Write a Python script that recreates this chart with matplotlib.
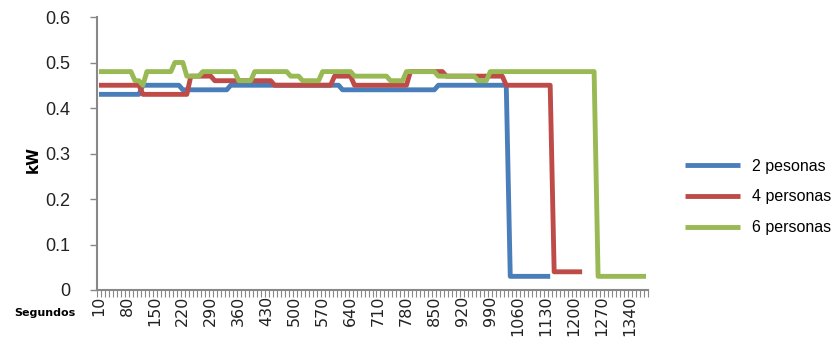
import matplotlib
matplotlib.use("Agg")
import matplotlib.pyplot as plt
import numpy as np

# seconds, one category every 10 s
segundos = list(range(10, 1390, 10))

# kW readings per category
p2 = [0.43, 0.43, 0.43, 0.43, 0.43, 0.43, 0.43, 0.43, 0.43, 0.43,
      0.43, 0.45, 0.45, 0.45, 0.45, 0.45, 0.45, 0.45, 0.45, 0.45,
      0.45, 0.44, 0.44, 0.44, 0.44, 0.44, 0.44, 0.44, 0.44, 0.44,
      0.44, 0.44, 0.44, 0.45, 0.45, 0.45, 0.45, 0.45, 0.45, 0.45,
      0.45, 0.45, 0.45, 0.45, 0.45, 0.45, 0.45, 0.45, 0.45, 0.45,
      0.45, 0.45, 0.45, 0.45, 0.45, 0.45, 0.45, 0.45, 0.45, 0.45,
      0.45, 0.44, 0.44, 0.44, 0.44, 0.44, 0.44, 0.44, 0.44, 0.44,
      0.44, 0.44, 0.44, 0.44, 0.44, 0.44, 0.44, 0.44, 0.44, 0.44,
      0.44, 0.44, 0.44, 0.44, 0.44, 0.45, 0.45, 0.45, 0.45, 0.45,
      0.45, 0.45, 0.45, 0.45, 0.45, 0.45, 0.45, 0.45, 0.45, 0.45,
      0.45, 0.45, 0.45, 0.03, 0.03, 0.03, 0.03, 0.03, 0.03, 0.03,
      0.03, 0.03, 0.03, 0.03]

p4 = [0.45, 0.45, 0.45, 0.45, 0.45, 0.45, 0.45, 0.45, 0.45, 0.45,
      0.45, 0.43, 0.43, 0.43, 0.43, 0.43, 0.43, 0.43, 0.43, 0.43,
      0.43, 0.43, 0.43, 0.47, 0.47, 0.47, 0.47, 0.47, 0.47, 0.46,
      0.46, 0.46, 0.46, 0.46, 0.46, 0.46, 0.46, 0.46, 0.46, 0.46,
      0.46, 0.46, 0.46, 0.46, 0.45, 0.45, 0.45, 0.45, 0.45, 0.45,
      0.45, 0.45, 0.45, 0.45, 0.45, 0.45, 0.45, 0.45, 0.45, 0.47,
      0.47, 0.47, 0.47, 0.47, 0.45, 0.45, 0.45, 0.45, 0.45, 0.45,
      0.45, 0.45, 0.45, 0.45, 0.45, 0.45, 0.45, 0.45, 0.48, 0.48,
      0.48, 0.48, 0.48, 0.48, 0.48, 0.48, 0.48, 0.47, 0.47, 0.47,
      0.47, 0.47, 0.47, 0.47, 0.47, 0.47, 0.47, 0.47, 0.47, 0.47,
      0.47, 0.47, 0.45, 0.45, 0.45, 0.45, 0.45, 0.45, 0.45, 0.45,
      0.45, 0.45, 0.45, 0.45, 0.04, 0.04, 0.04, 0.04, 0.04, 0.04,
      0.04, 0.04]

p6 = [0.48, 0.48, 0.48, 0.48, 0.48, 0.48, 0.48, 0.48, 0.48, 0.46,
      0.46, 0.45, 0.48, 0.48, 0.48, 0.48, 0.48, 0.48, 0.48, 0.50,
      0.50, 0.50, 0.47, 0.47, 0.47, 0.47, 0.48, 0.48, 0.48, 0.48,
      0.48, 0.48, 0.48, 0.48, 0.48, 0.46, 0.46, 0.46, 0.46, 0.48,
      0.48, 0.48, 0.48, 0.48, 0.48, 0.48, 0.48, 0.48, 0.47, 0.47,
      0.47, 0.46, 0.46, 0.46, 0.46, 0.46, 0.48, 0.48, 0.48, 0.48,
      0.48, 0.48, 0.48, 0.48, 0.47, 0.47, 0.47, 0.47, 0.47, 0.47,
      0.47, 0.47, 0.47, 0.46, 0.46, 0.46, 0.46, 0.48, 0.48, 0.48,
      0.48, 0.48, 0.48, 0.48, 0.48, 0.47, 0.47, 0.47, 0.47, 0.47,
      0.47, 0.47, 0.47, 0.47, 0.47, 0.46, 0.46, 0.46, 0.48, 0.48,
      0.48, 0.48, 0.48, 0.48, 0.48, 0.48, 0.48, 0.48, 0.48, 0.48,
      0.48, 0.48, 0.48, 0.48, 0.48, 0.48, 0.48, 0.48, 0.48, 0.48,
      0.48, 0.48, 0.48, 0.48, 0.48, 0.03, 0.03, 0.03, 0.03, 0.03,
      0.03, 0.03, 0.03, 0.03, 0.03, 0.03, 0.03, 0.03]

series = [("2 pesonas", p2, "#4A7EBB"),
          ("4 personas", p4, "#BE4B48"),
          ("6 personas", p6, "#98B954")]

fig = plt.figure(figsize=(8.38, 3.5), dpi=100)
ax = fig.add_axes([97 / 838, 1 - 290 / 350, (648 - 97) / 838, (290 - 17) / 350])

for name, vals, col in series:
    ax.plot(np.arange(len(vals)), vals, color=col, lw=3.5, label=name,
            solid_joinstyle="round", solid_capstyle="butt")

n = len(segundos)
ax.set_xlim(-0.5, n - 0.5)
ax.set_ylim(0, 0.6)

# category axis: ticks between categories, label every 7th
ax.set_xticks(np.arange(n + 1) - 0.5, minor=True)
ax.set_xticks(np.arange(0, n, 7))
ax.set_xticklabels([str(s) for s in segundos[::7]], rotation=90,
                   fontsize=11.5, family="DejaVu Sans", color="#222222")
ax.tick_params(axis="x", which="major", length=0, pad=4)
ax.tick_params(axis="x", which="minor", length=5, width=0.8, color="#888888")

ax.set_yticks(np.arange(0, 0.61, 0.1))
ax.set_yticklabels(["0", "0.1", "0.2", "0.3", "0.4", "0.5", "0.6"],
                   fontsize=13, family="Liberation Sans", color="#222222")
ax.tick_params(axis="y", length=5, width=1, color="#888888", pad=14)

for side in ["top", "right"]:
    ax.spines[side].set_visible(False)
for side in ["left", "bottom"]:
    ax.spines[side].set_color("#888888")
    ax.spines[side].set_linewidth(1.5)

fig.text(33 / 838, 1 - 160 / 350, "kW", rotation=90, fontsize=11, fontweight="bold",
         family="DejaVu Sans", ha="center", va="center")
fig.text(45 / 838, 1 - 313 / 350, "Segundos", fontsize=8, fontweight="bold",
         family="DejaVu Sans", ha="center", va="center")

ax.legend(loc="center left", bbox_to_anchor=(671 / 838, 1 - 197 / 350),
          bbox_transform=fig.transFigure, frameon=False, handlelength=3.4,
          handletextpad=0.75, labelspacing=1.0,
          prop={"family": "Liberation Sans", "size": 11.5})

fig.savefig("out.png", dpi=100)
